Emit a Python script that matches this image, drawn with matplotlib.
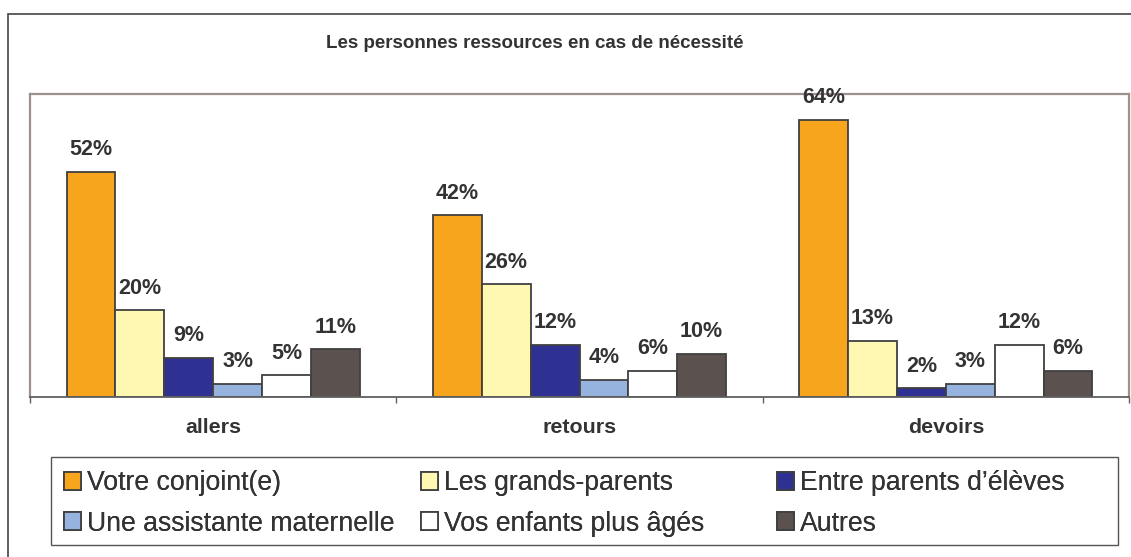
import numpy as np
import matplotlib
matplotlib.use('Agg')
import matplotlib.pyplot as plt
from matplotlib.patches import Rectangle, Patch

plt.rcParams['font.family'] = ['Liberation Sans', 'DejaVu Sans']

categories = ['allers', 'retours', 'devoirs']
series = ['Votre conjoint(e)', 'Les grands-parents', 'Entre parents d\u2019élèves',
          'Une assistante maternelle', 'Vos enfants plus âgés', 'Autres']
conjoint = [52, 42, 64]
grands_parents = [20, 26, 13]
entre_parents = [9, 12, 2]
assistante = [3, 4, 3]
enfants = [5, 6, 12]
autres = [11, 10, 6]
values = [conjoint, grands_parents, entre_parents, assistante, enfants, autres]
colors = ['#F7A51D', '#FFF8B3', '#2E3192', '#95B3DE', '#FFFFFF', '#5B514F']

txt = '#333333'
W, H = 1131, 557
fig = plt.figure(figsize=(W / 100, H / 100), dpi=100)

# outer chart frame (clipped right and bottom)
fig.patches.append(Rectangle((8 / W, -0.2), 1.2, 1.2 - 14 / H, transform=fig.transFigure,
                             fill=False, edgecolor='#444444', lw=1.2))

ax = fig.add_axes([30 / W, (H - 397) / H, (1129 - 30) / W, (397 - 94) / H])
x = np.arange(len(categories))
w = 1 / 7.5
for j, (vals, c) in enumerate(zip(values, colors)):
    pos = x + (j - 2.5) * w
    ax.bar(pos, vals, w, color=c, edgecolor='#404040', lw=1.3, zorder=2)
    for p, v in zip(pos, vals):
        ax.annotate(f'{v}%', (p, v), xytext=(0, 12), textcoords='offset points',
                    ha='center', va='baseline', fontsize=15.5, fontweight='bold', color=txt)

ax.set_xlim(-0.5, 2.5)
ax.set_ylim(0, 70)
ax.set_yticks([])
ax.set_xticks(x)
ax.set_xticklabels(categories, fontsize=15.4, fontweight='bold', color=txt)
ax.tick_params(axis='x', which='major', length=0, pad=15)
ax.set_xticks([-0.5, 0.5, 1.5, 2.5], minor=True)
ax.tick_params(axis='x', which='minor', length=4, width=1, color='#606060', direction='out')
for s in ['left', 'top', 'right']:
    ax.spines[s].set_color('#9C918C')
    ax.spines[s].set_linewidth(1.6)
ax.spines['bottom'].set_color('#606060')
ax.spines['bottom'].set_linewidth(1.3)

fig.text(535 / W, 1 - 43 / H, 'Les personnes ressources en cas de nécessité',
         ha='center', va='center', fontsize=13.5, fontweight='bold', color=txt)

# legend box
fig.patches.append(Rectangle((51 / W, 1 - 545 / H), (1118 - 51) / W, (545 - 457) / H,
                             transform=fig.transFigure, fill=False, edgecolor='#555555', lw=1))
handles = [Patch(facecolor=c, edgecolor='#404040', lw=1.3) for c in colors]
col_x = [64, 421, 777]
for k, cx in enumerate(col_x):
    idx = [k, k + 3]
    leg = fig.legend([handles[i] for i in idx], [series[i] for i in idx],
                     loc='upper left', bbox_to_anchor=(cx / W, 1 - 470 / H),
                     frameon=False, fontsize=19.2, borderpad=0, borderaxespad=0,
                     handlelength=0.65, handleheight=0.65, handletextpad=0.2,
                     labelspacing=0.55, labelcolor=txt)
    fig.add_artist(leg)

fig.savefig('out.png', dpi=100)
